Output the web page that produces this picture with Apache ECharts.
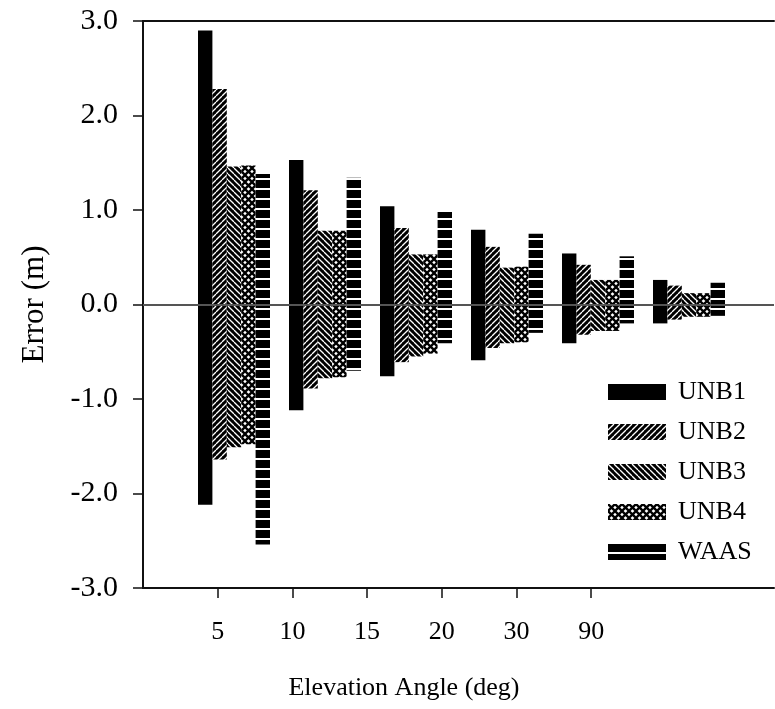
<!DOCTYPE html>
<html>
<head>
<meta charset="utf-8">
<script src="https://cdn.jsdelivr.net/npm/echarts@6/dist/echarts.min.js"></script>
<style>
html,body{margin:0;padding:0;background:#fff;overflow:hidden;}
#main{width:775px;height:709px;}
</style>
</head>
<body>
<div id="main"></div>
<script>
// ---- data ----
const categories = ['5', '10', '15', '20', '30', '90'];
const seriesNames = ['UNB1', 'UNB2', 'UNB3', 'UNB4', 'WAAS'];
const unb1Pos = [2.90, 1.53, 1.04, 0.79, 0.54, 0.26];
const unb1Neg = [-2.12, -1.12, -0.76, -0.59, -0.41, -0.20];
const unb2Pos = [2.28, 1.21, 0.81, 0.61, 0.42, 0.20];
const unb2Neg = [-1.64, -0.89, -0.61, -0.46, -0.32, -0.16];
const unb3Pos = [1.46, 0.78, 0.53, 0.39, 0.26, 0.12];
const unb3Neg = [-1.51, -0.78, -0.55, -0.41, -0.28, -0.13];
const unb4Pos = [1.47, 0.78, 0.53, 0.40, 0.26, 0.12];
const unb4Neg = [-1.48, -0.77, -0.52, -0.40, -0.28, -0.13];
const waasPos = [1.38, 1.34, 0.98, 0.75, 0.51, 0.23];
const waasNeg = [-2.54, -0.70, -0.41, -0.30, -0.20, -0.12];
const yTicks = [-3, -2, -1, 0, 1, 2, 3];

const posArrays = [unb1Pos, unb2Pos, unb3Pos, unb4Pos, waasPos];
const negArrays = [unb1Neg, unb2Neg, unb3Neg, unb4Neg, waasNeg];

// ---- patterns ----
function makeCanvas(w, h, draw) {
  const c = document.createElement('canvas');
  c.width = w; c.height = h;
  const ctx = c.getContext('2d');
  draw(ctx, w, h);
  return c;
}
function pat(c) { return { image: c, repeat: 'repeat' }; }
const S = 6;
const fwd = makeCanvas(S, S, (ctx) => {
  ctx.fillStyle = '#000'; ctx.fillRect(0, 0, S, S);
  ctx.strokeStyle = '#fff'; ctx.lineWidth = 1.3;
  for (let k = -1; k <= 1; k++) {
    ctx.beginPath(); ctx.moveTo(k * S, S); ctx.lineTo(k * S + S, 0); ctx.stroke();
  }
});
const back = makeCanvas(S, S, (ctx) => {
  ctx.fillStyle = '#000'; ctx.fillRect(0, 0, S, S);
  ctx.strokeStyle = '#fff'; ctx.lineWidth = 1.3;
  for (let k = -1; k <= 1; k++) {
    ctx.beginPath(); ctx.moveTo(k * S, 0); ctx.lineTo(k * S + S, S); ctx.stroke();
  }
});
const C = 7;
const cross = makeCanvas(C, C, (ctx) => {
  ctx.fillStyle = '#fff'; ctx.fillRect(0, 0, C, C);
  ctx.strokeStyle = '#000'; ctx.lineWidth = 2.3;
  for (let k = -1; k <= 1; k++) {
    ctx.beginPath(); ctx.moveTo(k * C, C); ctx.lineTo(k * C + C, 0); ctx.stroke();
    ctx.beginPath(); ctx.moveTo(k * C, 0); ctx.lineTo(k * C + C, C); ctx.stroke();
  }
});
const horiz = makeCanvas(4, 10, (ctx) => {
  ctx.fillStyle = '#fff'; ctx.fillRect(0, 0, 4, 10);
  ctx.fillStyle = '#000'; ctx.fillRect(0, 0, 4, 8);
});
const fills = ['#000', pat(fwd), pat(back), pat(cross), pat(horiz)];

// axis extents (in slot units) so the visible part of the plot matches the figure
const plotWidth = 631;
const barAxisMax = plotWidth / 91;     // bar groups every 91 px
const tickAxisMax = plotWidth / 74.7;  // angle ticks every 74.7 px
const tickPositions = categories.map((c, i) => i + 1);

const FONT = '"Liberation Serif", "Times New Roman", serif';
const AXIS = '#111';

const series = [];
seriesNames.forEach((name, i) => {
  const base = {
    type: 'bar', name: name, stack: 'st' + i,
    xAxisIndex: 0, yAxisIndex: 0,
    barWidth: 14.4, barGap: '0%',
    itemStyle: { color: fills[i] },
    emphasis: { disabled: true }
  };
  series.push(Object.assign({}, base, {
    data: posArrays[i].map((v, j) => [j + 1, v])
  }));
  series.push(Object.assign({}, base, {
    data: negArrays[i].map((v, j) => [j + 1, v])
  }));
});
series[0].markLine = {
  silent: true, symbol: ['none', 'none'], label: { show: false },
  lineStyle: { color: '#555', width: 2, type: 'solid' },
  data: [{ yAxis: 0 }], z: 10
};

const chart = echarts.init(document.getElementById('main'), null, { renderer: 'canvas' });
chart.setOption({
  animation: false,
  backgroundColor: '#fff',
  textStyle: { fontFamily: FONT, color: '#000' },
  grid: [
    { left: 143, top: 21, bottom: 121, width: plotWidth, containLabel: false, show: false }
  ],
  legend: {
    orient: 'vertical', left: 608, top: 379, padding: 0,
    itemWidth: 58, itemHeight: 16, itemGap: 14,
    icon: 'rect',
    data: seriesNames,
    selectedMode: false,
    textStyle: { fontFamily: FONT, fontSize: 26, color: '#000', padding: [0, 0, 0, 7] }
  },
  xAxis: [
    { type: 'value', gridIndex: 0, min: 0, max: barAxisMax, position: 'top',
      axisLine: { show: true, onZero: false, lineStyle: { color: AXIS, width: 2 } },
      axisTick: { show: false }, axisLabel: { show: false }, splitLine: { show: false },
      minorTick: { show: false }, minorSplitLine: { show: false } },
    { type: 'value', gridIndex: 0, min: 0, max: tickAxisMax, position: 'bottom',
      axisLine: { show: true, onZero: false, lineStyle: { color: AXIS, width: 2 } },
      axisTick: { show: true, inside: false, length: 10, lineStyle: { color: AXIS, width: 1.5 },
        customValues: tickPositions },
      axisLabel: { show: true, customValues: tickPositions, margin: 31,
        formatter: (v) => categories[Math.round(v) - 1] || '',
        fontFamily: FONT, fontSize: 26, color: '#000' },
      splitLine: { show: false }, minorTick: { show: false }, minorSplitLine: { show: false } }
  ],
  yAxis: [
    { type: 'value', gridIndex: 0, min: yTicks[0], max: yTicks[yTicks.length - 1], interval: 1,
      name: 'Error (m)', nameLocation: 'middle', nameGap: 93,
      nameTextStyle: { fontFamily: FONT, fontSize: 31, color: '#000' },
      axisLine: { show: true, lineStyle: { color: AXIS, width: 2 } },
      axisTick: { show: true, inside: false, length: 10, lineStyle: { color: AXIS, width: 1.5 } },
      axisLabel: { margin: 25, fontFamily: FONT, fontSize: 30, color: '#000',
        formatter: (v) => v.toFixed(1) },
      splitLine: { show: false } }
  ],
  graphic: [
    { type: 'text', x: 404, y: 688,
      style: { text: 'Elevation Angle (deg)', font: '26px ' + FONT, fill: '#000',
        textAlign: 'center', textVerticalAlign: 'middle' } }
  ],
  series: series
});
</script>
</body>
</html>
